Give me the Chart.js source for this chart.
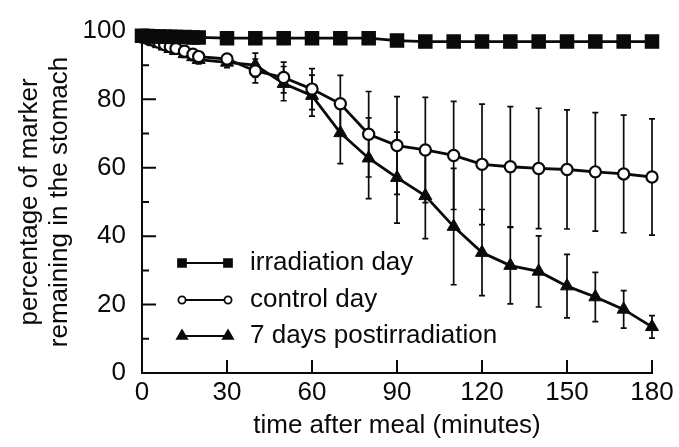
<!DOCTYPE html>
<html>
<head>
<meta charset="utf-8">
<script src="https://cdn.jsdelivr.net/npm/chart.js@4.4.1/dist/chart.umd.min.js"></script>
<style>
  html, body { margin: 0; padding: 0; background: #fff; }
  #wrap { width: 679px; height: 447px; }
</style>
</head>
<body>
<div id="wrap"><canvas id="emptyingChart" width="679" height="447"></canvas></div>
<script>
// time points (minutes after meal)
const minutes = [0, 2, 4, 6, 8, 10, 12, 15, 18, 20, 30, 40, 50, 60, 70, 80, 90, 100, 110, 120, 130, 140, 150, 160, 170, 180]

// % of marker remaining in the stomach
const irradiationDay = [98.6, 98.5, 98.4, 98.4, 98.3, 98.3, 98.2, 98.2, 98.1, 98.1, 97.9, 97.9, 97.9, 97.9, 97.9, 97.9, 97.2, 96.9, 96.9, 96.9, 96.9, 96.9, 96.9, 96.9, 96.9, 96.9]
const controlDay = [98.2, 97.8, 97.3, 96.7, 96.0, 95.4, 94.9, 94.1, 93.2, 92.5, 91.8, 88.3, 86.4, 83.0, 78.7, 69.8, 66.5, 65.2, 63.6, 61.0, 60.3, 59.8, 59.5, 58.8, 58.2, 57.3]
const controlSd = [0.5, 0.5, 0.6, 0.7, 0.8, 0.8, 0.9, 1.0, 1.0, 1.2, 1.5, 3.5, 4.5, 6.0, 8.3, 12.5, 14.3, 15.4, 15.8, 17.6, 17.6, 17.6, 17.4, 17.3, 17.2, 17.0]
const postIrradiation = [98.0, 97.4, 96.8, 96.2, 95.5, 94.8, 94.2, 93.3, 92.4, 91.6, 90.8, 90.0, 84.6, 81.1, 70.2, 62.8, 57.1, 51.8, 42.8, 35.2, 31.4, 29.7, 25.4, 22.2, 18.6, 13.5]
const postIrradiationSd = [0.5, 0.5, 0.6, 0.7, 0.8, 0.8, 0.9, 1.0, 1.0, 1.2, 1.5, 3.5, 5.0, 6.0, 9.0, 11.8, 13.3, 12.5, 17.0, 12.6, 11.2, 10.4, 9.3, 7.2, 5.5, 3.3]

const seriesNames = ['irradiation day', 'control day', '7 days postirradiation']
const xTitle = 'time after meal (minutes)'
const yTitle = ['percentage of marker', 'remaining in the stomach']

const INK = '#0a0a0a'
const FONT = "'Liberation Sans', Arial, Helvetica, sans-serif"
const LEGEND_ROWS = [263, 300, 336]   // y of legend rows
const LEGEND_X = [182, 228, 250]      // line start, line end, text start

function points(values) {
    return minutes.map((m, i) => ({ x: m, y: values[i] }))
}

// vertical SD bars, drawn under the markers
const errorBars = {
    id: 'errorBars',
    beforeDatasetsDraw(chart) {
        const { ctx, scales: { x, y } } = chart
        ctx.save()
        ctx.strokeStyle = INK
        ctx.lineWidth = 1.7
        chart.data.datasets.forEach(ds => {
            if (!ds.sd) return
            ds.data.forEach((p, i) => {
                const sd = ds.sd[i]
                if (!sd) return
                const px = x.getPixelForValue(p.x)
                const top = y.getPixelForValue(p.y + sd)
                const bot = y.getPixelForValue(p.y - sd)
                ctx.beginPath()
                ctx.moveTo(px, top); ctx.lineTo(px, bot)
                ctx.moveTo(px - 3, top); ctx.lineTo(px + 3, top)
                ctx.moveTo(px - 3, bot); ctx.lineTo(px + 3, bot)
                ctx.stroke()
            })
        })
        ctx.restore()
    }
}

// tick marks pointing into the plot
const innerTicks = {
    id: 'innerTicks',
    beforeDatasetsDraw(chart) {
        const { ctx, chartArea, scales: { x, y } } = chart
        ctx.save()
        ctx.strokeStyle = INK
        ctx.lineWidth = 2
        ctx.beginPath()
        for (let v = 10; v <= 100; v += 10) {
            const py = y.getPixelForValue(v)
            ctx.moveTo(chartArea.left, py)
            ctx.lineTo(chartArea.left + (v % 20 ? 7 : 14), py)
        }
        for (let m = 30; m <= 180; m += 30) {
            const px = x.getPixelForValue(m)
            ctx.moveTo(px, chartArea.bottom)
            ctx.lineTo(px, chartArea.bottom - 13)
        }
        ctx.stroke()
        ctx.restore()
    }
}

// legend with a marker at both ends of the line
const pairLegend = {
    id: 'pairLegend',
    afterDatasetsDraw(chart) {
        const { ctx } = chart
        const sizes = [5.6, 3.6, 5.8]
        ctx.save()
        chart.data.datasets.forEach((ds, i) => {
            const ly = LEGEND_ROWS[i]
            ctx.strokeStyle = INK
            ctx.lineWidth = 2.2
            ctx.beginPath()
            ctx.moveTo(LEGEND_X[0], ly)
            ctx.lineTo(LEGEND_X[1], ly)
            ctx.stroke()
            ctx.fillStyle = ds.pointBackgroundColor
            ctx.strokeStyle = INK
            ctx.lineWidth = 1.8
            const opts = { pointStyle: ds.pointStyle, radius: sizes[i], rotation: 0, borderWidth: 1.8 }
            Chart.helpers.drawPoint(ctx, opts, LEGEND_X[0], ly)
            Chart.helpers.drawPoint(ctx, opts, LEGEND_X[1], ly)
            ctx.fillStyle = INK
            ctx.font = `26px ${FONT}`
            ctx.textBaseline = 'middle'
            ctx.fillText(ds.label, LEGEND_X[2], ly)
        })
        ctx.restore()
    }
}

const axisFont = { family: FONT, size: 26, lineHeight: 1.15 }

new Chart(document.getElementById('emptyingChart'), {
    type: 'line',
    data: {
        datasets: [
            {
                label: seriesNames[0],
                data: points(irradiationDay),
                borderColor: INK,
                borderWidth: 2.8,
                pointStyle: 'rect',
                pointRadius: 9.2,
                pointBackgroundColor: INK,
                pointBorderColor: INK,
                pointBorderWidth: 1.5
            },
            {
                label: seriesNames[1],
                data: points(controlDay),
                sd: controlSd,
                borderColor: INK,
                borderWidth: 2.8,
                pointStyle: 'circle',
                pointRadius: 5.6,
                pointBackgroundColor: '#fff',
                pointBorderColor: INK,
                pointBorderWidth: 2.2
            },
            {
                label: seriesNames[2],
                data: points(postIrradiation),
                sd: postIrradiationSd,
                borderColor: INK,
                borderWidth: 2.8,
                pointStyle: 'triangle',
                pointRadius: 7.5,
                pointBackgroundColor: INK,
                pointBorderColor: INK,
                pointBorderWidth: 1
            }
        ]
    },
    options: {
        responsive: false,
        animation: false,
        clip: false,
        layout: { padding: { left: 0, right: 27, top: 26, bottom: 0 } },
        plugins: {
            legend: { display: false },
            tooltip: { enabled: false }
        },
        elements: { line: { tension: 0 } },
        scales: {
            x: {
                type: 'linear',
                min: 0,
                max: 180,
                grid: { display: false, drawTicks: false },
                border: { display: true, color: INK, width: 2 },
                ticks: { stepSize: 30, color: INK, font: axisFont, padding: 5, maxRotation: 0 },
                title: { display: true, text: xTitle, color: INK, font: axisFont, padding: { top: 0, bottom: 6 } },
                afterFit(scale) { scale.height = 74 }
            },
            y: {
                min: 0,
                max: 100,
                grid: { display: false, drawTicks: false },
                border: { display: true, color: INK, width: 2 },
                ticks: { stepSize: 20, color: INK, font: axisFont, padding: 16 },
                title: { display: true, text: yTitle, color: INK, font: axisFont, padding: { top: 15, bottom: 0 } },
                afterFit(scale) { scale.width = 142 }
            }
        }
    },
    plugins: [innerTicks, errorBars, pairLegend]
})
</script>
</body>
</html>
